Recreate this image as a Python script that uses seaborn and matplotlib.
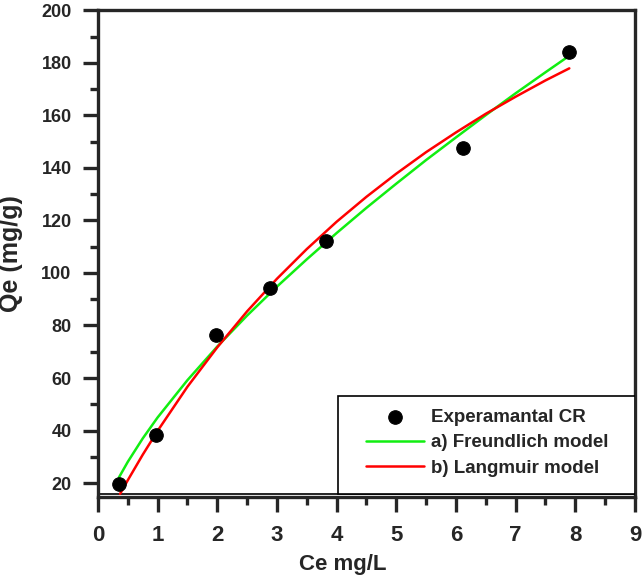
import numpy as np
import pandas as pd
import matplotlib
matplotlib.use("Agg")
import matplotlib.pyplot as plt
from matplotlib.ticker import MultipleLocator
from matplotlib.patches import Rectangle
import seaborn as sns

# experimental points
ce_exp = [0.35, 0.965, 1.975, 2.89, 3.83, 6.12, 7.90]
qe_exp = [19.7, 38.3, 76.2, 94.2, 112.2, 147.7, 184.2]

# fitted curves
ce_fr = [0.35, 0.5, 0.75, 1.0, 1.5, 2.0, 2.5, 3.0, 3.5, 4.0, 4.5, 5.0, 5.5, 6.0, 6.5, 7.0, 7.5, 7.9]
qe_fr = [22.1, 28.1, 37.0, 45.0, 59.2, 72.0, 83.8, 94.8, 105.2, 115.2, 124.8, 134.0, 143.0, 151.6, 160.1, 168.4, 176.4, 182.7]

ce_la = [0.37, 0.5, 0.75, 1.0, 1.5, 2.0, 2.5, 3.0, 3.5, 4.0, 4.5, 5.0, 5.5, 6.0, 6.5, 7.0, 7.5, 7.9]
qe_la = [15.9, 21.1, 30.8, 39.9, 56.7, 71.7, 85.4, 97.8, 109.1, 119.5, 129.0, 137.8, 146.0, 153.5, 160.6, 167.1, 173.3, 177.9]

sns.set_style("ticks")
plt.rcParams['font.family'] = ['Liberation Sans', 'DejaVu Sans']
plt.rcParams['font.weight'] = 'bold'

fig = plt.figure(figsize=(6.42, 5.79), dpi=100)
ax = fig.add_axes([0.1526, 0.1416, 0.8364, 0.8406])

sns.lineplot(x=ce_fr, y=qe_fr, color='#11ee11', linewidth=1.8, ax=ax,
             label='a) Freundlich model')
sns.lineplot(x=ce_la, y=qe_la, color='#ff0000', linewidth=1.8, ax=ax,
             label='b) Langmuir model')
sns.scatterplot(x=ce_exp, y=qe_exp, color='black', s=95, edgecolor='black',
                ax=ax, label='Experamantal CR', zorder=5)

ax.set_xlim(0, 9)
ax.set_ylim(14.7, 200)
ax.xaxis.set_major_locator(MultipleLocator(1))
ax.xaxis.set_minor_locator(MultipleLocator(0.5))
ax.yaxis.set_major_locator(MultipleLocator(20))
ax.yaxis.set_minor_locator(MultipleLocator(10))

# thin line under the legend, running across the plot
ax.axhline(15.9, color='black', linewidth=1.2, zorder=1)

for s in ax.spines.values():
    s.set_linewidth(2.4)
ax.tick_params(which='major', direction='out', length=11, width=2.4,
               top=False, right=False)
ax.tick_params(which='minor', direction='out', length=5.5, width=2.4,
               top=False, right=False)
ax.tick_params(axis='x', which='major', labelsize=16, pad=9)
ax.tick_params(axis='y', which='major', labelsize=13, pad=8)
for lab in ax.get_xticklabels() + ax.get_yticklabels():
    lab.set_fontweight('bold')

ax.set_xlabel('Ce mg/L', fontsize=16, fontweight='bold')
ax.set_ylabel('Qe (mg/g)', fontsize=18, fontweight='bold')
ax.xaxis.set_label_coords(0.455, -0.118)
ax.yaxis.set_label_coords(-0.14, 0.5)

# legend box
ax.add_patch(Rectangle((0.447, 0.006), 0.553, 0.2015, transform=ax.transAxes,
                       facecolor='white', edgecolor='black', linewidth=1.2,
                       zorder=6))
h, l = ax.get_legend_handles_labels()
order = [2, 0, 1]
leg = ax.legend([h[i] for i in order], [l[i] for i in order], loc='upper left',
                bbox_to_anchor=(0.499, 0.182), borderaxespad=0, borderpad=0,
                frameon=False, prop={'weight': 'bold', 'size': 13.5},
                handlelength=3.1, handletextpad=0.35, labelspacing=0.45)
leg.set_zorder(7)

fig.savefig('out.png', dpi=100)
